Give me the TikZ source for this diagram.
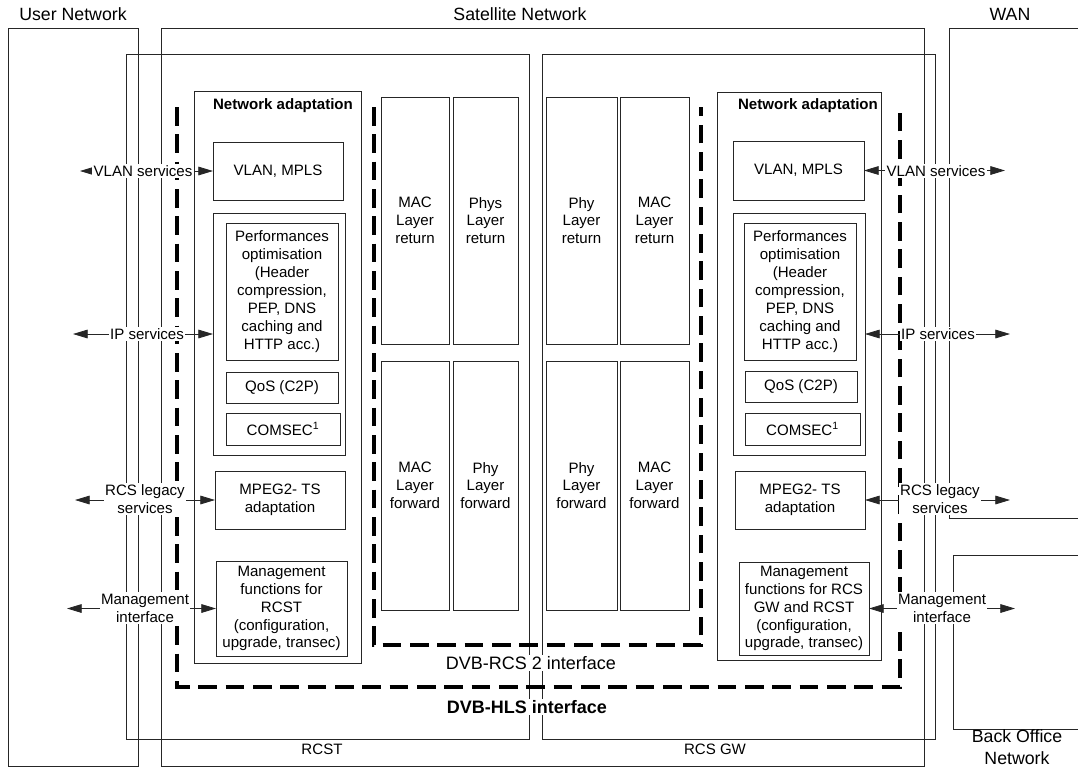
\documentclass[tikz,border=0pt]{standalone}
\usepackage{fontspec}
\setmainfont{Liberation Sans}
\usetikzlibrary{arrows.meta}

\tikzset{
  frame/.style={draw=black!85, line width=0.6pt, inner sep=0pt, outer sep=0pt},
  box/.style={frame, align=center, font=\fontsize{11.3}{13.4}\selectfont},
  iface/.style={draw=black, line width=3pt, dash pattern=on 14pt off 6.5pt},
  link/.style={draw=black!85, line width=0.6pt,
    {Triangle[length=11pt,width=6.5pt]}-{Triangle[length=11pt,width=6.5pt]}},
  lbl/.style={fill=white, inner sep=1pt, align=center, font=\fontsize{11.3}{13.4}\selectfont},
  hdr/.style={inner sep=0pt, align=center, font=\fontsize{13.3}{16}\selectfont},
  natitle/.style={inner sep=0pt, font=\fontsize{11.3}{13.4}\selectfont\bfseries},
  ifacetitle/.style={fill=white, inner sep=1pt, font=\fontsize{13.5}{16}\selectfont},
}

% \rbox[options]{name}{x1}{y1}{x2}{y2}{text}: rectangle node given by its corners
\newcommand\rbox[7][]{%
  \node[box,minimum width={(#5-#3)*0.75pt},minimum height={(#6-#4)*0.75pt},#1]
    (#2) at ({(#3+#5)/2},{(#4+#6)/2}) {#7};}

\begin{document}
\begin{tikzpicture}[x=0.75pt,y=-0.75pt]
\useasboundingbox (0,0) rectangle (1078,769);
\clip (0,0) rectangle (1078,769);

% network domains
\rbox{user}{8}{28}{138}{766}{}
\rbox{sat}{161}{28}{924}{766}{}
\rbox{wan}{949}{28}{1100}{518}{}
\rbox{bon}{953}{555}{1100}{729}{}
\rbox{rcst}{126}{54}{529}{739}{}
\rbox{rcsgw}{542}{54}{935}{739}{}

\node[hdr] (userT) at (73,14) {User Network};
\node[hdr] (satT) at (520,14) {Satellite Network};
\node[hdr] (wanT) at (1010,14) {WAN};
\node[hdr] (bonT) at (1017,747) {Back Office\\Network};
\node[lbl,fill=none] (rcstT) at (322,749) {RCST};
\node[lbl,fill=none] (gwT) at (715,749) {RCS GW};

% interface outlines
\draw[iface] (177,107) -- (177,687) -- (900,687) -- (900,107);
\draw[iface] (374,107) -- (374,645) -- (701,645) -- (701,107);
\node[ifacetitle] (rcs2T) at (531,663) {DVB-RCS 2 interface};
\node[ifacetitle,font=\fontsize{13.5}{16}\selectfont\bfseries] (hlsT) at (527,707) {DVB-HLS interface};

% network adaptation, terminal side
\rbox{naL}{194}{91}{361}{663}{}
\node[natitle] (naLT) at (283,106) {Network adaptation};
\rbox{vlanL}{213}{142}{343}{200}{VLAN, MPLS}
\rbox{perfL}{213}{213}{345}{455}{}
\rbox{pepL}{226}{223}{338}{360}{Performances\\optimisation\\(Header\\compression,\\PEP, DNS\\caching and\\HTTP acc.)}
\rbox{qosL}{226}{372}{338}{403}{QoS (C2P)}
\rbox{secL}{226}{413}{340}{445}{COMSEC\textsuperscript{1}}
\rbox{mpegL}{215}{471}{345}{529}{MPEG2- TS\\adaptation}
\rbox{mgmtL}{216}{561}{347}{656}{Management\\functions for\\RCST\\(configuration,\\upgrade, transec)}

% network adaptation, gateway side
\rbox{naR}{717}{92}{881}{660}{}
\node[natitle] (naRT) at (808,106) {Network adaptation};
\rbox{vlanR}{733}{141}{864}{200}{VLAN, MPLS}
\rbox{perfR}{733}{213}{865}{455}{}
\rbox{pepR}{744}{223}{856}{360}{Performances\\optimisation\\(Header\\compression,\\PEP, DNS\\caching and\\HTTP acc.)}
\rbox{qosR}{745}{371}{857}{402}{QoS (C2P)}
\rbox{secR}{745}{413}{860}{445}{COMSEC\textsuperscript{1}}
\rbox{mpegR}{735}{471}{865}{529}{MPEG2- TS\\adaptation}
\rbox{mgmtR}{739}{562}{869}{655}{Management\\functions for RCS\\GW and RCST\\(configuration,\\upgrade, transec)}

% MAC and physical layers
\rbox{macRetL}{381}{97}{449}{344}{MAC\\Layer\\return}
\rbox{phyRetL}{453}{97}{518}{344}{Phys\\Layer\\return}
\rbox{macFwdL}{381}{361}{449}{610}{MAC\\Layer\\forward}
\rbox{phyFwdL}{453}{361}{518}{610}{Phy\\Layer\\forward}
\rbox{phyRetR}{546}{97}{617}{344}{Phy\\Layer\\return}
\rbox{macRetR}{620}{97}{689}{344}{MAC\\Layer\\return}
\rbox{phyFwdR}{546}{361}{617}{610}{Phy\\Layer\\forward}
\rbox{macFwdR}{620}{361}{689}{610}{MAC\\Layer\\forward}

% service interfaces, terminal side
\path (vlanL.west) ++(-133,0) coordinate (uVlan);
\path (perfL.west) ++(-140,0) coordinate (uIp);
\path (mpegL.west) ++(-140,0) coordinate (uRcs);
\path (mgmtL.west) ++(-149,0) coordinate (uMgmt);
\draw[link] (uVlan) -- (vlanL.west);
\draw[link] (uIp) -- (perfL.west);
\draw[link] (uRcs) -- (mpegL.west);
\draw[link] (uMgmt) -- (mgmtL.west);
\node[lbl] (uVlanT) at (143,171) {VLAN services};
\node[lbl] (uIpT) at (147,334) {IP services};
\node[lbl] (uRcsT) at (145,499) {RCS legacy\\services};
\node[lbl] (uMgmtT) at (145,608) {Management\\interface};

% service interfaces, gateway side
\path (vlanR.east) ++(141,0) coordinate (wVlan);
\path (perfR.east) ++(145,0) coordinate (wIp);
\path (mpegR.east) ++(145,0) coordinate (wRcs);
\path (mgmtR.east) ++(146,0) coordinate (wMgmt);
\draw[link] (vlanR.east) -- (wVlan);
\draw[link] (perfR.east) -- (wIp);
\draw[link] (mpegR.east) -- (wRcs);
\draw[link] (mgmtR.east) -- (wMgmt);
\node[lbl] (wVlanT) at (936,171) {VLAN services};
\node[lbl] (wIpT) at (938,334) {IP services};
\node[lbl] (wRcsT) at (940,499) {RCS legacy\\services};
\node[lbl] (wMgmtT) at (942,608) {Management\\interface};
\end{tikzpicture}
\end{document}
